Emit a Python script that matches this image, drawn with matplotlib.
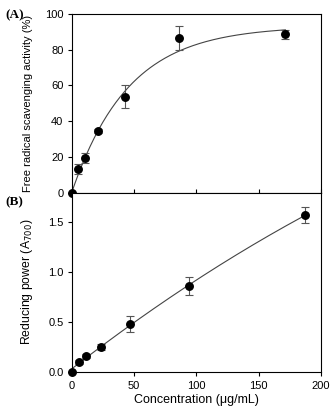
import numpy as np
import matplotlib
matplotlib.use("Agg")
import matplotlib.pyplot as plt

plt.rcParams['font.family'] = ['Liberation Sans', 'DejaVu Sans']

# (A) free radical scavenging
conc_a = [0, 5.36, 10.7, 21.4, 42.9, 85.7, 171.4]
scav = [0, 13.2, 19.4, 34.6, 53.6, 86.5, 88.5]
scav_err = [0, 3.0, 3.0, 1.0, 6.5, 6.5, 2.5]
fit_a = (93.2, 0.022)  # a * (1 - exp(-b x))

# (B) reducing power
conc_b = [0, 5.86, 11.7, 23.4, 46.9, 93.75, 187.5]
rp = [0, 0.10, 0.16, 0.245, 0.475, 0.86, 1.575]
rp_err = [0, 0.02, 0.02, 0.03, 0.08, 0.09, 0.08]

fig = plt.figure(figsize=(3.32, 4.08), dpi=100)
ax1 = fig.add_axes([0.216, 0.528, 0.751, 0.438])
ax2 = fig.add_axes([0.216, 0.089, 0.751, 0.439])

mk = dict(fmt='o', color='black', ms=5.4, ecolor='#555555', elinewidth=0.8,
          capsize=2.6, capthick=0.8, zorder=3, clip_on=False)

xs = np.linspace(0, max(conc_a), 200)
ax1.plot(xs, fit_a[0] * (1 - np.exp(-fit_a[1] * xs)), color='#444444', lw=0.8)
ax1.errorbar(conc_a, scav, yerr=scav_err, **mk)
ax1.set_xlim(0, 200)
ax1.set_ylim(0, 100)
ax1.set_yticks([0, 20, 40, 60, 80, 100])
ax1.set_xticks([0, 50, 100, 150, 200])
ax1.tick_params(axis='x', direction='in', labelbottom=False, length=3, width=0.8)
ax1.tick_params(axis='y', direction='out', length=3, width=0.8, labelsize=8, pad=3)
ax1.set_ylabel('Free radical scavenging activity (%)', fontsize=8)
ax1.yaxis.set_label_coords(-0.155, 0.5)

coef = np.polyfit(conc_b, rp, 2)
xs2 = np.linspace(0, max(conc_b), 200)
ax2.plot(xs2, np.polyval(coef, xs2), color='#444444', lw=0.8)
ax2.errorbar(conc_b, rp, yerr=rp_err, **mk)
ax2.set_xlim(0, 200)
ax2.set_ylim(0, 1.8)
ax2.set_yticks([0.0, 0.5, 1.0, 1.5])
ax2.set_yticklabels(['0.0', '0.5', '1.0', '1.5'])
ax2.set_xticks([0, 50, 100, 150, 200])
ax2.tick_params(direction='out', length=3, width=0.8, labelsize=8, pad=3)
ax2.tick_params(axis='x', pad=4)
ax2.set_ylabel('Reducing power (A$_{700}$)', fontsize=8.8)
ax2.yaxis.set_label_coords(-0.148, 0.5)
ax2.set_xlabel('Concentration (\u03bcg/mL)', fontsize=9)
ax2.xaxis.set_label_coords(0.5, -0.125)

for ax in (ax1, ax2):
    for s in ax.spines.values():
        s.set_linewidth(0.8)

fig.text(0.015, 0.962, '(A)', fontsize=9.5, fontweight='bold',
         family='Liberation Serif', va='center')
fig.text(0.015, 0.504, '(B)', fontsize=9.5, fontweight='bold',
         family='Liberation Serif', va='center')

fig.savefig('out.png', dpi=100)
